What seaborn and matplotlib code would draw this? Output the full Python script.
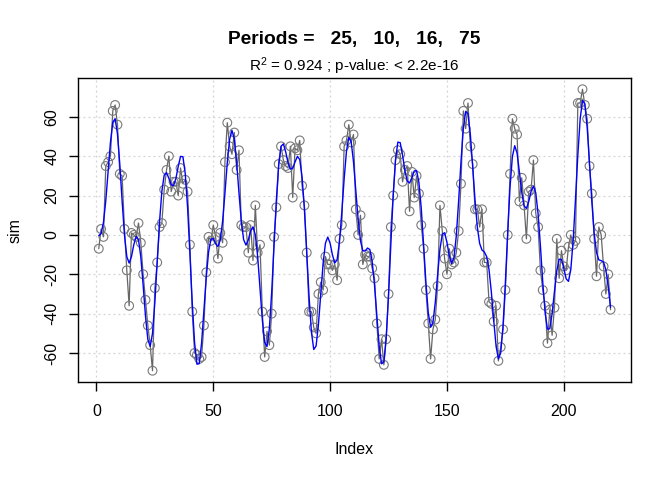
import numpy as np
import pandas as pd
import matplotlib
matplotlib.use("Agg")
import matplotlib.pyplot as plt
import seaborn as sns

# values (index 1..220)
sim = [-7, 3, -1, 35, 37, 40, 63, 66, 56, 31,
       30, 3, -18, -36, 1, 0, -1, 6, -4, -20,
       -33, -46, -56, -69, -27, -14, 4, 6, 23, 33,
       40, 22, 27, 27, 20, 34, 26, 28, 22, -5,
       -39, -60, -61, -63, -62, -46, -19, -1, -3, 5,
       -1, -12, 1, -4, 37, 57, 45, 41, 52, 33,
       43, 5, 4, 4, -9, 5, -13, 15, -9, -5,
       -39, -62, -49, -56, -40, -1, 14, 36, 45, 38,
       35, 34, 45, 19, 44, 43, 48, 25, 15, -9,
       -39, -39, -47, -50, -30, -24, -28, -11, -15, -15,
       -18, -15, -23, -2, 5, 45, 48, 56, 47, 51,
       13, 0, 10, -15, -10, -11, -11, -17, -22, -45,
       -63, -53, -66, -53, -30, 4, 20, 38, 43, 41,
       27, 33, 35, 12, 32, 19, 30, 21, 5, -7,
       -28, -45, -63, -48, -43, -26, 15, 2, -12, -20,
       -7, -15, -14, -9, 2, 26, 63, 54, 67, 45,
       36, 13, 13, 4, 13, -14, -14, -34, -35, -44,
       -36, -64, -57, -48, -28, 0, 31, 59, 54, 51,
       17, 29, 15, -2, 22, 23, 38, 11, 4, -18,
       -28, -36, -55, -38, -51, -37, -2, -22, -8, -16,
       -18, -6, 0, -5, -3, 67, 67, 74, 66, 59,
       35, 21, -2, -21, 4, 0, -16, -30, -20, -38]
periods = [25, 10, 16, 75]
title = "Periods =   25,   10,   16,   75"
subtitle = r"$\mathregular{R^2}$ = 0.924 ; p-value: < 2.2e-16"

idx = np.arange(1, len(sim) + 1)
df = pd.DataFrame({"Index": idx, "sim": sim})

# harmonic regression fit on the periods
cols = [np.ones(len(idx))]
for p in periods:
    cols.append(np.sin(2 * np.pi * idx / p))
    cols.append(np.cos(2 * np.pi * idx / p))
X = np.column_stack(cols)
coef, *_ = np.linalg.lstsq(X, df["sim"].values, rcond=None)
df["fit"] = X @ coef

sns.set_theme(style="white")
plt.rcParams["font.family"] = ["Liberation Sans", "DejaVu Sans"]
plt.rcParams["axes.unicode_minus"] = False
plt.rcParams["text.color"] = "black"
plt.rcParams["xtick.color"] = "black"
plt.rcParams["ytick.color"] = "black"

fig = plt.figure(figsize=(6.72, 4.8), dpi=100)
ax = fig.add_axes([0.1165, 0.2042, 0.8225, 0.6333])

sns.lineplot(data=df, x="Index", y="sim", ax=ax, color="#666666", lw=0.9, zorder=2)
sns.scatterplot(data=df, x="Index", y="sim", ax=ax, s=40, facecolor="none",
                edgecolor="#7a7a7a", linewidth=0.8, zorder=3)
sns.lineplot(data=df, x="Index", y="fit", ax=ax, color="blue", lw=1.0, zorder=4)

r = idx.max() - idx.min()
ax.set_xlim(idx.min() - 0.04 * r, idx.max() + 0.04 * r)
yr = max(sim) - min(sim)
ax.set_ylim(min(sim) - 0.04 * yr, max(sim) + 0.04 * yr)

ax.set_xticks(np.arange(0, 201, 50))
ax.set_yticks(np.arange(-60, 61, 20))
ax.grid(True, color="#d3d3d3", linestyle=(0, (1.5, 2.5)), lw=0.9)
ax.set_axisbelow(True)
for s in ax.spines.values():
    s.set_color("black")
    s.set_linewidth(1.0)

ax.tick_params(axis="both", direction="out", length=6.5, width=1.0, color="black",
               labelcolor="black", labelsize=11.5, bottom=True, left=True)
ax.tick_params(axis="x", pad=9)
ax.tick_params(axis="y", pad=7)
for lab in ax.get_yticklabels():
    lab.set_rotation(90)
    lab.set_va("center")

ax.set_xlabel("")
ax.set_ylabel("")
fig.text(0.5275, 0.0625, "Index", ha="center", va="center", fontsize=11.5)
fig.text(0.022, 0.52, "sim", ha="center", va="center", rotation=90, fontsize=11.5)
fig.text(0.5275, 0.917, title, ha="center", va="center", fontsize=13.8, fontweight="bold")
fig.text(0.5275, 0.862, subtitle, ha="center", va="center", fontsize=11)

fig.savefig("out.png", dpi=100)
